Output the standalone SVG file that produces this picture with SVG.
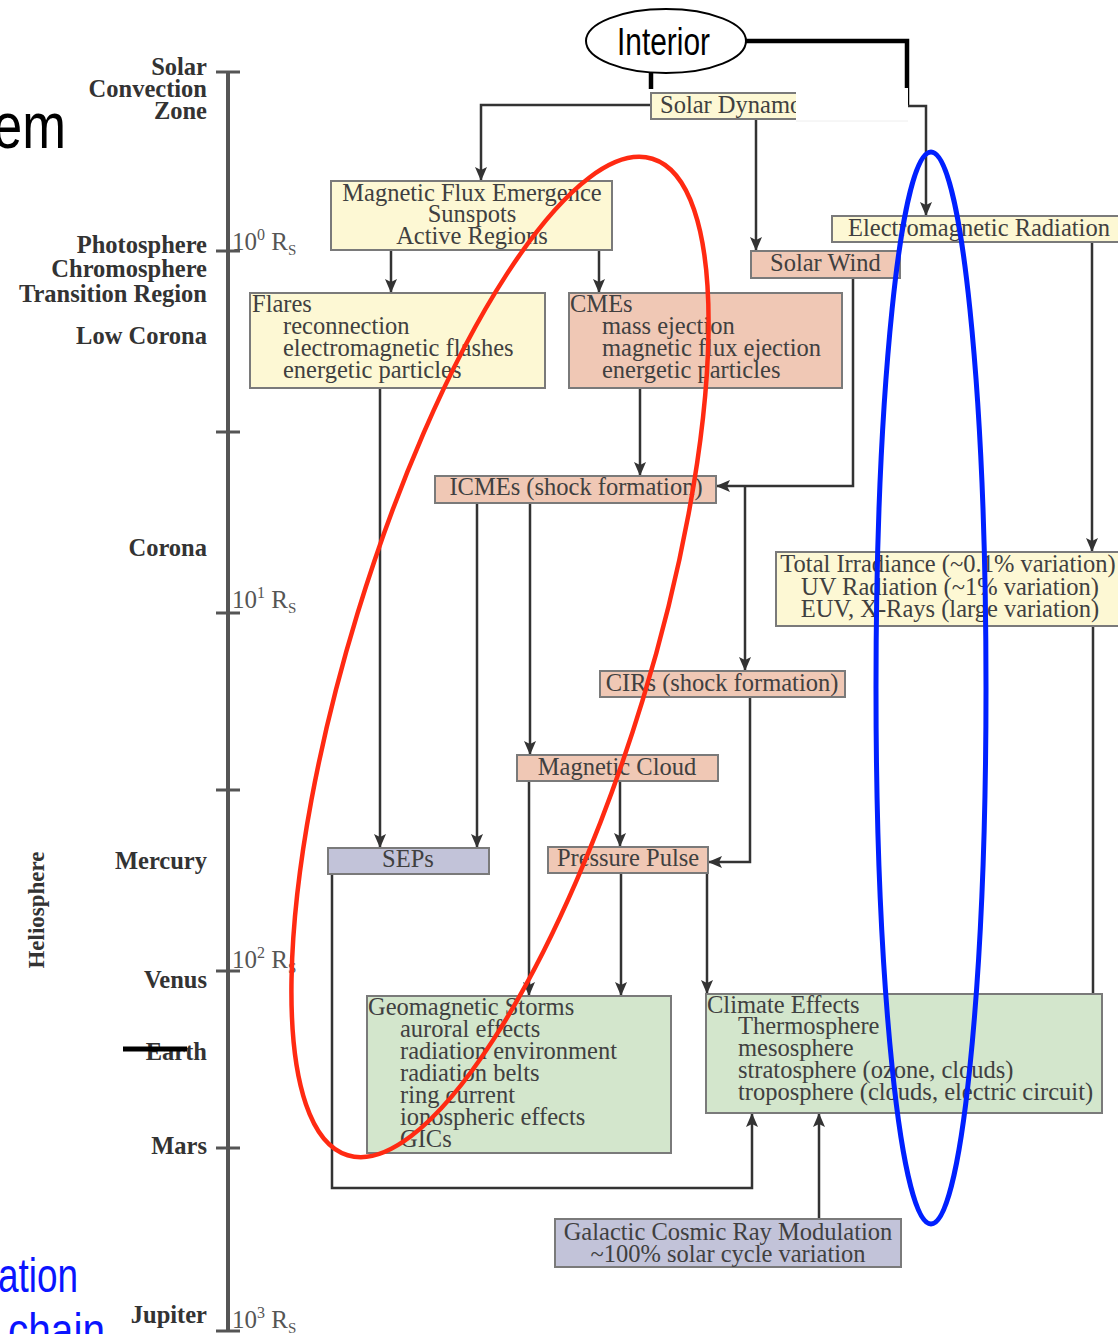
<svg xmlns="http://www.w3.org/2000/svg" width="1118" height="1334" viewBox="0 0 1118 1334">
<defs>
<marker id="ah" viewBox="0 0 14 12" refX="14" refY="6" markerWidth="14" markerHeight="12" orient="auto" markerUnits="userSpaceOnUse">
<path d="M0,0 L14,6 L0,12 L3,6 z" fill="#333"/>
</marker>
<style>
.bx{stroke:#7a7a7a;stroke-width:2}
.yel{fill:#fdf8d4}
.sal{fill:#f0c8b5}
.lav{fill:#c2c3d9}
.grn{fill:#d3e6cc}
.t{font-family:"Liberation Serif","Times New Roman",serif;font-size:24.5px;fill:#404040}
.c{text-anchor:middle}
.lbl{font-family:"Liberation Serif","Times New Roman",serif;font-size:24.5px;font-weight:bold;fill:#333;text-anchor:end}
.sc{font-family:"Liberation Serif","Times New Roman",serif;font-size:25px;fill:#555}
.cn{fill:none;stroke:#333;stroke-width:2.5}
.ar{marker-end:url(#ah)}
.tk{stroke:#555;stroke-width:3}
</style>
</defs>
<rect width="1118" height="1334" fill="#ffffff"/>

<!-- slide fragments -->
<text x="-7" y="148" font-family="Liberation Sans, Arial, sans-serif" font-size="64" fill="#000" textLength="73" lengthAdjust="spacingAndGlyphs">em</text>
<text x="-2" y="1292" font-family="Liberation Sans, Arial, sans-serif" font-size="48" fill="#0a14ff" textLength="80" lengthAdjust="spacingAndGlyphs">ation</text>
<text x="8" y="1347" font-family="Liberation Sans, Arial, sans-serif" font-size="48" fill="#0a14ff" textLength="97" lengthAdjust="spacingAndGlyphs">chain</text>

<!-- scale -->
<g id="scale">
<line x1="228" y1="72" x2="228" y2="1332" stroke="#555" stroke-width="4"/>
<line class="tk" x1="216" y1="72" x2="240" y2="72"/>
<line class="tk" x1="216" y1="251" x2="240" y2="251" stroke="#333"/>
<line class="tk" x1="216" y1="432" x2="240" y2="432" stroke="#777"/>
<line class="tk" x1="216" y1="613" x2="240" y2="613" stroke="#333"/>
<line class="tk" x1="216" y1="790" x2="240" y2="790" stroke="#777"/>
<line class="tk" x1="216" y1="971" x2="240" y2="971" stroke="#333"/>
<line class="tk" x1="216" y1="1148" x2="240" y2="1148" stroke="#777"/>
<line class="tk" x1="216" y1="1331" x2="240" y2="1331" stroke="#333"/>
<text class="lbl" x="207" y="75">Solar</text>
<text class="lbl" x="207" y="97">Convection</text>
<text class="lbl" x="207" y="119">Zone</text>
<text class="lbl" x="207" y="253">Photosphere</text>
<text class="lbl" x="207" y="277">Chromosphere</text>
<text class="lbl" x="207" y="302">Transition Region</text>
<text class="lbl" x="207" y="344">Low Corona</text>
<text class="lbl" x="207" y="556">Corona</text>
<text class="lbl" x="207" y="869">Mercury</text>
<text class="lbl" x="207" y="988">Venus</text>
<text class="lbl" x="207" y="1060">Earth</text>
<text class="lbl" x="207" y="1154">Mars</text>
<text class="lbl" x="207" y="1323">Jupiter</text>
<text class="lbl" transform="translate(44,910) rotate(-90)" style="text-anchor:middle;font-size:23px">Heliosphere</text>
<text class="sc" x="232" y="250">10<tspan font-size="16" dy="-10">0</tspan><tspan dy="10"> R</tspan><tspan font-size="15" dy="5">S</tspan></text>
<text class="sc" x="232" y="608">10<tspan font-size="16" dy="-10">1</tspan><tspan dy="10"> R</tspan><tspan font-size="15" dy="5">S</tspan></text>
<text class="sc" x="232" y="968">10<tspan font-size="16" dy="-10">2</tspan><tspan dy="10"> R</tspan><tspan font-size="15" dy="5">S</tspan></text>
<text class="sc" x="232" y="1328">10<tspan font-size="16" dy="-10">3</tspan><tspan dy="10"> R</tspan><tspan font-size="15" dy="5">S</tspan></text>
</g>
<line x1="123" y1="1049" x2="187" y2="1049" stroke="#000" stroke-width="5"/>

<!-- connectors -->
<g id="connectors">
<path d="M746,41 H907 V105" fill="none" stroke="#000" stroke-width="4.5"/>
<path d="M651,72 V89" fill="none" stroke="#000" stroke-width="4.5"/>
<path class="cn ar" d="M907,106 H926 V216"/>
<path class="cn ar" d="M651,105 H481 V181"/>
<path class="cn ar" d="M756,119 V251"/>
<path class="cn ar" d="M391,250 V293"/>
<path class="cn ar" d="M599,250 V293"/>
<path class="cn ar" d="M380,388 V848"/>
<path class="cn ar" d="M640,388 V476"/>
<path class="cn ar" d="M853,278 V486 H716"/>
<path class="cn ar" d="M745,486 V671"/>
<path class="cn ar" d="M477,503 V848"/>
<path class="cn ar" d="M530,503 V755"/>
<path class="cn ar" d="M1092,242 V552"/>
<path class="cn" d="M1093,626 V994"/>
<path class="cn ar" d="M750,697 V862 H708"/>
<path class="cn ar" d="M620,781 V847"/>
<path class="cn ar" d="M529,781 V996"/>
<path class="cn ar" d="M621,873 V996"/>
<path class="cn ar" d="M707,873 V994"/>
<path class="cn ar" d="M332,874 V1188 H752 V1113"/>
<path class="cn ar" d="M819,1219 V1113"/>
</g>

<!-- nodes -->
<g id="interior">
<ellipse cx="666" cy="41" rx="80" ry="32" fill="#fff" stroke="#000" stroke-width="2"/>
<text x="617" y="55" font-family="Liberation Sans, Arial, sans-serif" font-size="38" fill="#000" textLength="93" lengthAdjust="spacingAndGlyphs">Interior</text>
</g>
<g id="solar-dynamo">
<rect class="bx yel" x="651" y="93" width="160" height="26"/>
<text class="t" x="660" y="113">Solar Dynamo</text>
<rect x="796" y="88" width="112" height="33" fill="#fff"/>
<line x1="796" y1="121" x2="908" y2="121" stroke="#eee" stroke-width="1"/>
</g>
<g id="magnetic-flux">
<rect class="bx yel" x="331" y="181" width="281" height="69"/>
<text class="t c" x="472" y="201">Magnetic Flux Emergence</text>
<text class="t c" x="472" y="222">Sunspots</text>
<text class="t c" x="472" y="244">Active Regions</text>
</g>
<g id="em-radiation">
<rect class="bx yel" x="832" y="216" width="290" height="26"/>
<text class="t" x="848" y="236">Electromagnetic Radiation</text>
</g>
<g id="solar-wind">
<rect class="bx sal" x="751" y="251" width="149" height="27"/>
<text class="t" x="770" y="271">Solar Wind</text>
</g>
<g id="flares">
<rect class="bx yel" x="250" y="293" width="295" height="95"/>
<text class="t" x="252" y="312">Flares</text>
<text class="t" x="283" y="334">reconnection</text>
<text class="t" x="283" y="356">electromagnetic flashes</text>
<text class="t" x="283" y="378">energetic particles</text>
</g>
<g id="cmes">
<rect class="bx sal" x="569" y="293" width="273" height="95"/>
<text class="t" x="570" y="312">CMEs</text>
<text class="t" x="602" y="334">mass ejection</text>
<text class="t" x="602" y="356">magnetic flux ejection</text>
<text class="t" x="602" y="378">energetic particles</text>
</g>
<g id="icmes">
<rect class="bx sal" x="435" y="476" width="281" height="27"/>
<text class="t c" x="576" y="495">ICMEs (shock formation)</text>
</g>
<g id="total-irradiance">
<rect class="bx yel" x="776" y="552" width="346" height="74"/>
<text class="t c" x="948" y="572">Total Irradiance (~0.1% variation)</text>
<text class="t c" x="950" y="595">UV Radiation (~1% variation)</text>
<text class="t c" x="950" y="617">EUV, X-Rays (large variation)</text>
</g>
<g id="cirs">
<rect class="bx sal" x="600" y="671" width="245" height="26"/>
<text class="t c" x="722" y="691">CIRs (shock formation)</text>
</g>
<g id="magnetic-cloud">
<rect class="bx sal" x="517" y="755" width="201" height="26"/>
<text class="t c" x="617" y="775">Magnetic Cloud</text>
</g>
<g id="seps">
<rect class="bx lav" x="328" y="848" width="161" height="26"/>
<text class="t c" x="408" y="867">SEPs</text>
</g>
<g id="pressure-pulse">
<rect class="bx sal" x="548" y="847" width="160" height="26"/>
<text class="t c" x="628" y="866">Pressure Pulse</text>
</g>
<g id="geomagnetic">
<rect class="bx grn" x="367" y="996" width="304" height="157"/>
<text class="t" x="368" y="1015">Geomagnetic Storms</text>
<text class="t" x="400" y="1037">auroral effects</text>
<text class="t" x="400" y="1059">radiation environment</text>
<text class="t" x="400" y="1081">radiation belts</text>
<text class="t" x="400" y="1103">ring current</text>
<text class="t" x="400" y="1125">ionospheric effects</text>
<text class="t" x="400" y="1147">GICs</text>
</g>
<g id="climate">
<rect class="bx grn" x="706" y="994" width="396" height="119"/>
<text class="t" x="707" y="1013">Climate Effects</text>
<text class="t" x="738" y="1034">Thermosphere</text>
<text class="t" x="738" y="1056">mesosphere</text>
<text class="t" x="738" y="1078">stratosphere (ozone, clouds)</text>
<text class="t" x="738" y="1100">troposphere (clouds, electric circuit)</text>
</g>
<g id="gcr">
<rect class="bx lav" x="555" y="1219" width="346" height="48"/>
<text class="t c" x="728" y="1240">Galactic Cosmic Ray Modulation</text>
<text class="t c" x="728" y="1262">~100% solar cycle variation</text>
</g>

<!-- highlight ellipses -->
<ellipse cx="500" cy="657" rx="149" ry="521" transform="rotate(17 500 657)" fill="none" stroke="#ff2a12" stroke-width="4.5"/>
<ellipse cx="931" cy="688" rx="55" ry="536" fill="none" stroke="#0020ff" stroke-width="5"/>
</svg>
